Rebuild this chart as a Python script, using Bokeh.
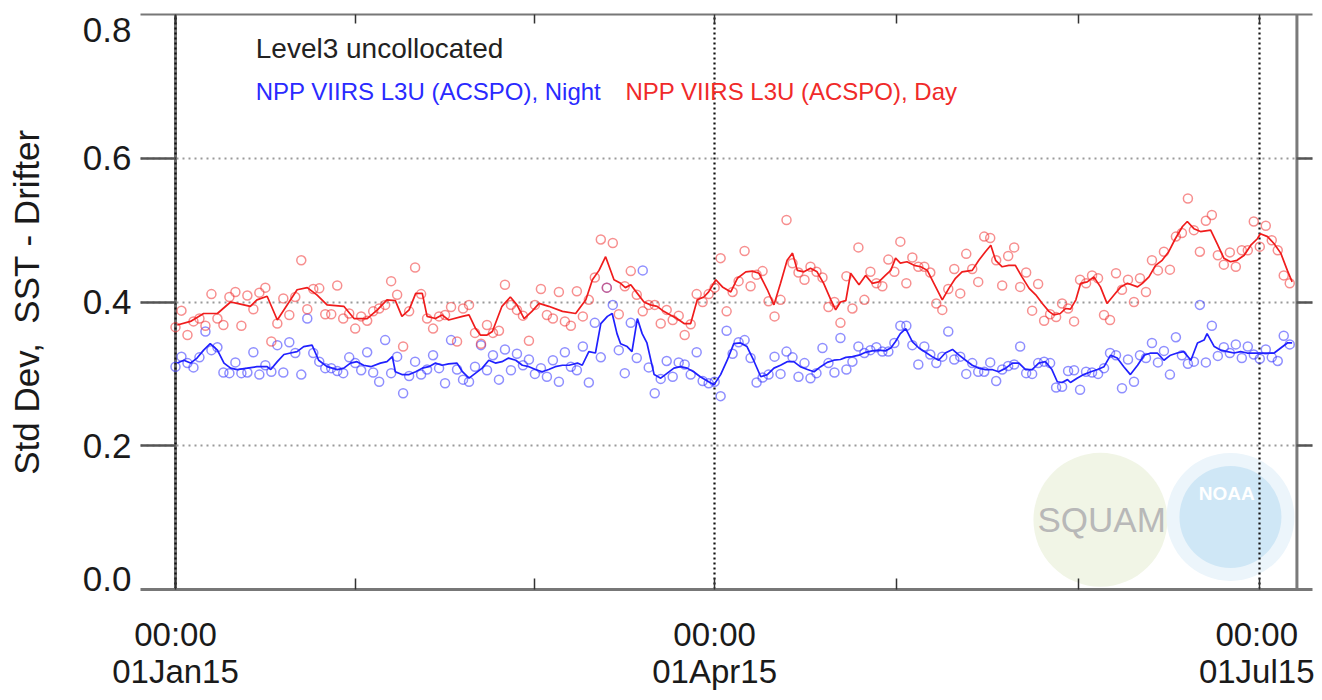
import pandas as pd
from bokeh.plotting import figure
from bokeh.models import (ColumnDataSource, Range1d, DatetimeAxis, LinearAxis, FixedTicker,
                          DatetimeTickFormatter, CustomJSTickFormatter, PrintfTickFormatter,
                          Span, Label)
from bokeh.embed import file_html
from bokeh.resources import INLINE

# ---------------- data ----------------
START = "2015-01-01"   # first daily value

night_std = [
    0.310, 0.324, 0.315, 0.309, 0.323, 0.359, 0.333, 0.337, 0.302, 0.301,
    0.316, 0.301, 0.302, 0.330, 0.299, 0.312, 0.303, 0.340, 0.302, 0.344,
    0.329, 0.299, 0.377, 0.329, 0.317, 0.308, 0.308, 0.304, 0.301, 0.323,
    0.315, 0.305, 0.330, 0.302, 0.289, 0.347, 0.301, 0.324, 0.273, 0.297,
    0.317, 0.299, 0.306, 0.326, 0.308, 0.287, 0.347, 0.306, 0.292, 0.289,
    0.310, 0.340, 0.305, 0.326, 0.292, 0.334, 0.305, 0.328, 0.312, 0.320,
    0.300, 0.308, 0.296, 0.319, 0.289, 0.330, 0.310, 0.305, 0.338, 0.288,
    0.371, 0.323, 0.420, 0.396, 0.333, 0.301, 0.371, 0.322, 0.444, 0.309,
    0.273, 0.293, 0.318, 0.296, 0.316, 0.313, 0.299, 0.330, 0.290, 0.287,
    0.289, 0.269, 0.360, 0.328, 0.344, 0.347, 0.322, 0.288, 0.295, 0.299,
    0.324, 0.300, 0.331, 0.323, 0.296, 0.315, 0.294, 0.301, 0.336, 0.315,
    0.302, 0.350, 0.306, 0.317, 0.338, 0.329, 0.333, 0.337, 0.331, 0.331,
    0.343, 0.367, 0.367, 0.340, 0.313, 0.338, 0.327, 0.315, 0.324, 0.359,
    0.320, 0.324, 0.300, 0.315, 0.303, 0.303, 0.316, 0.290, 0.306, 0.311,
    0.313, 0.338, 0.301, 0.300, 0.315, 0.317, 0.315, 0.281, 0.282, 0.304,
    0.305, 0.278, 0.303, 0.302, 0.300, 0.308, 0.329, 0.326, 0.280, 0.320,
    0.289, 0.326, 0.322, 0.343, 0.316, 0.332, 0.299, 0.351, 0.326, 0.314,
    0.317, 0.396, 0.316, 0.367, 0.325, 0.337, 0.329, 0.341, 0.322, 0.338,
    0.327, 0.321, 0.334, 0.323, 0.318, 0.353, 0.341,
]

day_std = [
    0.365, 0.388, 0.354, 0.373, 0.377, 0.367, 0.411, 0.377, 0.368, 0.407,
    0.414, 0.367, 0.409, 0.390, 0.413, 0.420, 0.345, 0.370, 0.405, 0.382,
    0.407, 0.458, 0.390, 0.418, 0.419, 0.383, 0.383, 0.423, 0.377, 0.384,
    0.363, 0.380, 0.374, 0.387, 0.391, 0.396, 0.429, 0.410, 0.338, 0.387,
    0.448, 0.411, 0.377, 0.363, 0.380, 0.382, 0.393, 0.345, 0.391, 0.396,
    0.357, 0.342, 0.368, 0.357, 0.360, 0.424, 0.396, 0.389, 0.381, 0.346,
    0.396, 0.418, 0.382, 0.377, 0.414, 0.373, 0.367, 0.415, 0.380, 0.403,
    0.434, 0.487, 0.420, 0.482, 0.383, 0.422, 0.443, 0.410, 0.387, 0.396,
    0.396, 0.370, 0.389, 0.375, 0.381, 0.354, 0.369, 0.411, 0.400, 0.411,
    0.420, 0.461, 0.387, 0.414, 0.429, 0.471, 0.422, 0.438, 0.443, 0.401,
    0.380, 0.403, 0.514, 0.454, 0.441, 0.431, 0.449, 0.442, 0.434, 0.393,
    0.400, 0.371, 0.436, 0.391, 0.476, 0.403, 0.442, 0.426, 0.422, 0.459,
    0.442, 0.484, 0.426, 0.462, 0.449, 0.449, 0.441, 0.398, 0.389, 0.418,
    0.446, 0.412, 0.467, 0.446, 0.428, 0.491, 0.489, 0.458, 0.423, 0.464,
    0.476, 0.421, 0.441, 0.388, 0.425, 0.374, 0.383, 0.379, 0.398, 0.391,
    0.373, 0.431, 0.426, 0.437, 0.433, 0.382, 0.375, 0.440, 0.417, 0.431,
    0.400, 0.433, 0.414, 0.458, 0.444, 0.470, 0.445, 0.491, 0.496, 0.544,
    0.500, 0.470, 0.513, 0.521, 0.465, 0.452, 0.469, 0.449, 0.472, 0.472,
    0.512, 0.477, 0.506, 0.486, 0.472, 0.437, 0.426,
]

# smoothed curves: (days after START, value)
night_line_day = [
    0.3, 1.4, 2.5, 3.6, 4.7, 5.8, 7.0, 8.1, 9.2, 10.3, 12.0, 13.6, 15.3, 15.9, 17.0,
    18.1, 19.2, 20.3, 21.4, 22.8, 23.9, 25.3, 27.0, 28.1, 29.2, 30.3, 31.4, 32.6,
    34.2, 35.3, 36.2, 36.7, 37.8, 39.0, 40.1, 41.2, 42.3, 43.4, 44.5, 45.6, 47.0,
    47.9, 49.0, 50.1, 51.2, 52.3, 53.4, 54.5, 55.6, 56.8, 57.9, 59.0, 60.1, 61.2,
    62.3, 63.4, 64.6, 65.7, 67.1, 67.9, 69.0, 70.1, 71.0, 72.1, 72.9, 73.7, 74.3,
    75.4, 76.2, 77.1, 77.9, 78.7, 79.9, 81.0, 82.1, 83.2, 84.3, 85.4, 86.5, 87.6,
    89.0, 89.9, 91.0, 92.1, 93.2, 94.3, 95.4, 96.5, 97.7, 98.8, 99.9, 101.0, 102.1,
    103.2, 104.3, 105.5, 106.6, 107.7, 108.8, 109.9, 111.0, 111.9, 113.0, 114.1,
    115.2, 116.3, 117.4, 118.5, 119.4, 120.2, 121.0, 121.9, 123.0, 124.1, 125.2,
    126.3, 127.4, 128.5, 129.7, 130.8, 131.9, 133.0, 134.1, 135.2, 136.3, 137.4,
    138.6, 139.7, 140.8, 141.9, 143.0, 144.1, 145.2, 146.3, 147.2, 148.0, 148.9,
    149.4, 150.5, 151.6, 152.8, 153.9, 155.0, 156.1, 157.2, 158.3, 159.4, 160.6,
    161.7, 162.8, 163.9, 165.0, 166.1, 167.2, 168.3, 169.5, 170.6, 171.7, 172.2,
    173.4, 174.5, 175.6, 176.7, 177.8, 178.9, 180.0, 181.1, 182.3, 183.4, 184.5,
    185.6, 186.4,
]
night_line_std = [
    0.315, 0.319, 0.315, 0.322, 0.333, 0.342, 0.333, 0.315, 0.308, 0.306, 0.308, 0.310,
    0.310, 0.306, 0.317, 0.327, 0.329, 0.331, 0.338, 0.340, 0.319, 0.310, 0.306, 0.308,
    0.315, 0.317, 0.312, 0.310, 0.315, 0.317, 0.324, 0.303, 0.299, 0.299, 0.303, 0.308,
    0.310, 0.315, 0.312, 0.314, 0.315, 0.303, 0.294, 0.301, 0.308, 0.319, 0.315, 0.317,
    0.322, 0.319, 0.312, 0.310, 0.306, 0.303, 0.306, 0.310, 0.312, 0.312, 0.315, 0.312,
    0.331, 0.329, 0.370, 0.380, 0.384, 0.356, 0.342, 0.338, 0.331, 0.377, 0.356, 0.343,
    0.299, 0.294, 0.301, 0.308, 0.310, 0.308, 0.303, 0.296, 0.289, 0.285, 0.299, 0.319,
    0.342, 0.343, 0.338, 0.319, 0.296, 0.299, 0.308, 0.312, 0.317, 0.317, 0.310, 0.306,
    0.303, 0.310, 0.316, 0.319, 0.320, 0.323, 0.324, 0.326, 0.330, 0.332, 0.333, 0.332,
    0.336, 0.345, 0.356, 0.363, 0.345, 0.336, 0.330, 0.324, 0.319, 0.329, 0.334, 0.326,
    0.319, 0.312, 0.308, 0.306, 0.306, 0.303, 0.308, 0.315, 0.315, 0.306, 0.306, 0.315,
    0.317, 0.306, 0.289, 0.288, 0.292, 0.288, 0.294, 0.299, 0.303, 0.306, 0.310, 0.326,
    0.322, 0.310, 0.299, 0.312, 0.326, 0.329, 0.329, 0.319, 0.326, 0.329, 0.331, 0.319,
    0.343, 0.347, 0.356, 0.338, 0.333, 0.331, 0.329, 0.331, 0.329, 0.329, 0.329, 0.329,
    0.329, 0.336, 0.343, 0.343,
]

day_line_day = [
    0.3, 2.5, 4.7, 7.0, 9.2, 10.3, 12.5, 13.6, 15.3, 17.0, 20.3, 22.0, 23.6, 25.3, 28.1,
    29.8, 32.0, 33.7, 35.3, 36.7, 37.8, 39.0, 40.1, 41.2, 42.0, 43.4, 44.5, 45.6, 47.9,
    49.0, 50.1, 50.9, 52.0, 52.9, 54.5, 55.9, 57.0, 58.2, 59.5, 60.7, 62.3, 64.6, 66.8,
    68.5, 69.6, 70.7, 71.8, 73.2, 74.3, 75.1, 76.0, 77.1, 78.2, 79.3, 80.4, 81.5, 82.6,
    83.7, 84.9, 86.0, 87.1, 88.2, 89.0, 90.2, 91.3, 92.7, 93.8, 95.2, 96.3, 97.4, 98.8,
    99.9, 101.0, 102.1, 103.0, 103.8, 104.9, 106.0, 107.1, 108.2, 109.4, 110.2, 111.0,
    111.9, 112.7, 114.1, 115.2, 116.3, 117.4, 118.5, 119.4, 120.2, 121.0, 122.1, 123.3,
    124.4, 125.5, 126.6, 128.0, 129.1, 130.2, 131.3, 133.0, 134.1, 135.2, 136.1, 136.9,
    138.0, 139.1, 140.2, 141.3, 142.5, 143.6, 144.7, 145.8, 146.6, 147.7, 148.6, 149.4,
    150.3, 151.1, 152.2, 153.3, 154.4, 155.5, 156.7, 157.8, 158.9, 160.6, 161.4, 162.5,
    163.6, 164.7, 165.8, 166.9, 168.1, 168.9, 170.0, 171.1, 172.8, 173.9, 175.0, 176.1,
    177.2, 178.4, 179.5, 180.6, 181.1, 182.3, 183.4, 184.5, 185.6, 186.4,
]
day_line_std = [
    0.368, 0.373, 0.384, 0.384, 0.400, 0.398, 0.394, 0.403, 0.408, 0.375, 0.417, 0.420,
    0.410, 0.396, 0.394, 0.377, 0.377, 0.389, 0.403, 0.402, 0.380, 0.389, 0.412, 0.412,
    0.380, 0.377, 0.382, 0.375, 0.380, 0.382, 0.363, 0.354, 0.354, 0.359, 0.394, 0.407,
    0.396, 0.377, 0.387, 0.398, 0.394, 0.387, 0.384, 0.403, 0.431, 0.444, 0.463, 0.431,
    0.426, 0.420, 0.424, 0.412, 0.400, 0.396, 0.394, 0.387, 0.382, 0.377, 0.370, 0.370,
    0.403, 0.407, 0.414, 0.431, 0.421, 0.414, 0.433, 0.442, 0.443, 0.440, 0.417, 0.396,
    0.426, 0.458, 0.468, 0.444, 0.442, 0.447, 0.442, 0.426, 0.403, 0.389, 0.400, 0.402,
    0.440, 0.424, 0.437, 0.426, 0.428, 0.437, 0.444, 0.461, 0.454, 0.456, 0.451, 0.449,
    0.444, 0.426, 0.403, 0.419, 0.433, 0.442, 0.444, 0.458, 0.470, 0.479, 0.458, 0.449,
    0.451, 0.451, 0.435, 0.419, 0.410, 0.398, 0.387, 0.382, 0.384, 0.391, 0.390, 0.403,
    0.426, 0.428, 0.435, 0.421, 0.398, 0.410, 0.421, 0.426, 0.421, 0.426, 0.435, 0.451,
    0.458, 0.470, 0.488, 0.505, 0.512, 0.502, 0.498, 0.500, 0.481, 0.461, 0.456, 0.458,
    0.465, 0.479, 0.488, 0.495, 0.491, 0.481, 0.468, 0.444, 0.428,
]

major_dates = ["2015-01-01", "2015-04-01", "2015-07-01"]
minor_dates = ["2015-01-31", "2015-03-02", "2015-05-01 08:00", "2015-05-31 16:00"]
grid_y = [0.2, 0.4, 0.6]
# where the y tick labels sit (end labels pulled inward, as in the original)
y_label_pos = [0.014, 0.2, 0.4, 0.6, 0.778]
title_text = "Level3 uncollocated"
night_name = "NPP VIIRS L3U (ACSPO), Night"
day_name = "NPP VIIRS L3U (ACSPO), Day"

# ---------------- helpers ----------------
DAY_MS = 86400000.0
t0 = pd.Timestamp(START)


def ms(ts):
    return pd.Timestamp(ts).value / 1e6


def day_ms(d):
    return ms(t0) + d * DAY_MS


dates = pd.date_range(START, periods=len(night_std), freq="D")
pts = ColumnDataSource(dict(t=dates, night=night_std, day=day_std))
nl = ColumnDataSource(dict(t=[day_ms(d) for d in night_line_day], v=night_line_std))
dl = ColumnDataSource(dict(t=[day_ms(d) for d in day_line_day], v=day_line_std))

FONT = "Liberation Sans"
x0 = day_ms(-5.84)
x1 = day_ms(189.8)
right_edge = day_ms(187.2)
blank = CustomJSTickFormatter(code="return ''")

p = figure(width=1314, height=692, x_axis_type="datetime",
           x_range=Range1d(x0, x1), y_range=Range1d(0, 0.8),
           min_border_left=140, min_border_right=2, min_border_top=14,
           min_border_bottom=102, output_backend="svg", toolbar_location=None)
p.outline_line_color = None
p.background_fill_color = "white"
p.border_fill_color = "white"

# ---- logo watermark (decoration) ----
logo = ColumnDataSource(dict(t=[day_ms(154.4), day_ms(176.1), day_ms(176.1)],
                             v=[0.097, 0.101, 0.101], s=[134, 128, 102],
                             c=["#f1f5e6", "#ecf5fb", "#cfe7f6"]))
p.scatter("t", "v", size="s", fill_color="c", line_color=None, source=logo,
          marker="circle", level="image")
p.add_layout(Label(x=day_ms(154.6), y=0.097, text="SQUAM", text_font=FONT,
                   text_font_size="35px", text_color="#b8b8b8", text_align="center",
                   text_baseline="middle", level="image"))
p.add_layout(Label(x=day_ms(175.5), y=0.133, text="NOAA", text_font=FONT,
                   text_font_size="19px", text_font_style="bold", text_color="white",
                   text_align="center", text_baseline="middle", level="image"))

# ---- solid boundary lines (IDL y-axes) ----
p.add_layout(Span(location=ms(major_dates[0]), dimension="height", line_color="#6e6e6e",
                  line_width=3, level="image"))
p.add_layout(Span(location=right_edge, dimension="height", line_color="#7a7a7a",
                  line_width=3, level="image"))

# ---- grids ----
p.xgrid.ticker = FixedTicker(ticks=[ms(d) for d in major_dates])
p.xgrid.grid_line_color = "#111111"
p.xgrid.grid_line_dash = "2 3"
p.xgrid.grid_line_width = 2.2
p.ygrid.ticker = FixedTicker(ticks=grid_y)
p.ygrid.grid_line_color = "#9a9a9a"
p.ygrid.grid_line_dash = "2 4"
p.ygrid.grid_line_width = 2

# ---- data ----
p.scatter("t", "night", source=pts, marker="circle", size=9, fill_color=None,
          line_color="#3333ff", line_alpha=0.55, line_width=1.5)
p.scatter("t", "day", source=pts, marker="circle", size=9, fill_color=None,
          line_color="#f03333", line_alpha=0.55, line_width=1.5)
p.line("t", "v", source=nl, line_color="#2020ff", line_width=1.7)
p.line("t", "v", source=dl, line_color="#f01c1c", line_width=1.7)

# ---- bottom axis ----
xtick = FixedTicker(ticks=[ms(d) for d in major_dates],
                    minor_ticks=[ms(d) for d in minor_dates])
fmt = "%H:%M\n%d%b%y"
xf = DatetimeTickFormatter(microseconds=fmt, milliseconds=fmt, seconds=fmt, minsec=fmt,
                           minutes=fmt, hourmin=fmt, hours=fmt, days=fmt, months=fmt,
                           years=fmt, boundary_scaling=False)
xa = p.xaxis[0]
xa.ticker = xtick
xa.formatter = xf
xa.axis_line_color = "#777777"
xa.axis_line_width = 3
xa.major_tick_in = 11
xa.major_tick_out = 0
xa.minor_tick_in = 11
xa.minor_tick_out = 0
xa.major_tick_line_color = "#333333"
xa.minor_tick_line_color = "#333333"
xa.major_tick_line_width = 1.5
xa.minor_tick_line_width = 1.5
xa.major_label_text_font = FONT
xa.major_label_text_font_size = "33px"
xa.major_label_text_color = "#1a1a1a"
xa.major_label_text_line_height = 1.0
xa.major_label_standoff = 26

# ---- top axis (no labels) ----
ta = DatetimeAxis(ticker=xtick, formatter=blank, axis_line_color="#777777",
                  axis_line_width=2, major_tick_in=9, major_tick_out=0, minor_tick_in=9,
                  minor_tick_out=0, major_tick_line_color="#333333",
                  minor_tick_line_color="#333333", major_tick_line_width=1.5,
                  minor_tick_line_width=1.5, major_label_text_font_size="1px",
                  major_label_standoff=0)
p.add_layout(ta, "above")

# ---- left axis: tick marks only (inner) ----
ya = p.yaxis[0]
ya.ticker = FixedTicker(ticks=grid_y)
ya.formatter = blank
ya.axis_line_color = None
ya.major_tick_in = 35
ya.major_tick_out = 0
ya.minor_tick_line_color = None
ya.major_tick_line_color = "#555555"
ya.major_tick_line_width = 2.5
ya.major_label_text_font_size = "1px"
ya.major_label_standoff = 0

# ---- left axis: labels (outer) ----
yb = LinearAxis(ticker=FixedTicker(ticks=y_label_pos),
                formatter=PrintfTickFormatter(format="%.1f"),
                axis_line_color=None, major_tick_line_color=None,
                minor_tick_line_color=None, major_tick_in=0, major_tick_out=0,
                minor_tick_in=0, minor_tick_out=0,
                major_label_text_font=FONT, major_label_text_font_size="35px",
                major_label_text_color="#1a1a1a", major_label_standoff=9,
                axis_label="Std Dev,\u00a0 SST - Drifter", axis_label_text_font=FONT,
                axis_label_text_font_size="35px", axis_label_text_font_style="normal",
                axis_label_text_color="#1a1a1a", axis_label_standoff=34)
p.add_layout(yb, "left")

# ---- right axis (ticks only) ----
ra = LinearAxis(ticker=FixedTicker(ticks=grid_y), formatter=blank, axis_line_color=None,
                major_tick_in=16, major_tick_out=0, minor_tick_line_color=None,
                major_tick_line_color="#555555", major_tick_line_width=2.5,
                major_label_text_font_size="1px", major_label_standoff=0)
p.add_layout(ra, "right")

# ---- legend texts ----
p.add_layout(Label(x=day_ms(13.4), y=0.753, text=title_text, text_font=FONT,
                   text_font_size="28px", text_color="#222222", text_baseline="middle"))
p.add_layout(Label(x=day_ms(13.4), y=0.693, text=night_name, text_font=FONT,
                   text_font_size="24px", text_color="#2a2aff", text_baseline="middle"))
p.add_layout(Label(x=day_ms(75.1), y=0.693, text=day_name, text_font=FONT,
                   text_font_size="24px", text_color="#f02a2a", text_baseline="middle"))

open("out.html", "w").write(file_html(p, INLINE))
